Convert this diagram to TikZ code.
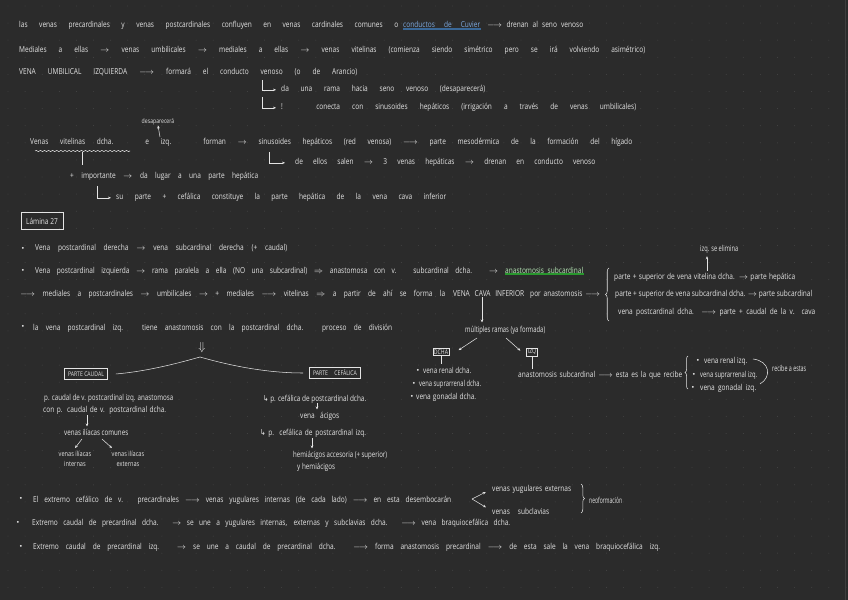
\documentclass[tikz,border=0pt]{standalone}
\usepackage{fontspec}
\setmainfont{Open Sans}[FakeStretch=0.8]
\newfontfamily\symfont{DejaVu Sans}[FakeStretch=0.8]
\usepackage{graphicx}
\usepackage{xcolor}
\usepackage{tikz}
\usetikzlibrary{positioning, calc, arrows.meta, decorations.pathreplacing, decorations.pathmorphing}

\definecolor{boardbg}{RGB}{43,43,43}
\definecolor{boarddot}{RGB}{70,70,70}
\definecolor{boardedge}{RGB}{62,62,62}
\definecolor{inkw}{RGB}{228,228,228}
\definecolor{inkblue}{RGB}{125,170,225}
\definecolor{hlblue}{RGB}{58,104,152}
\definecolor{inkgreen}{RGB}{185,235,185}
\definecolor{hlgreen}{RGB}{40,150,45}

% one pixel of the 848x600 sheet
\newlength\pxu \setlength\pxu{0.03cm}
\newlength\natw
\newcommand\inkfont{\fontsize{7}{8}\selectfont}
% spread a handwritten line over a given width (in px)
\newcommand\spread[2]{\settowidth\natw{#2}\ifdim\natw>#1\pxu\resizebox{#1\pxu}{\height}{#2}\else\makebox[#1\pxu][s]{#2}\fi}
\newcommand\turn{{\symfont ↳}}
\newcommand\dotb{\scalebox{0.55}{$\bullet$}}

\tikzset{
  ink/.style={text=inkw, inner sep=0pt, font=\inkfont},
  row/.style={ink, anchor=base west},
  inkline/.style={draw=inkw, line width=0.45pt},
  inkarrow/.style={inkline, -{Stealth[length=2.6pt, width=2.2pt]}},
  tag/.style={draw=inkw, line width=0.5pt, text=inkw, inner sep=1pt, font=\fontsize{5.5}{6}\selectfont}
}

\begin{document}
\begin{tikzpicture}[x=0.03cm, y=-0.03cm]
        % sheet and dot grid
        \fill[boardbg] (0,0) rectangle (848,600);
        \useasboundingbox (0,0) rectangle (848,600);
        \foreach \i in {0,...,49}
          \foreach \j in {0,...,35}
            \fill[boarddot] (8+\i*17.1, 6+\j*17.1) circle[radius=0.4pt];
        \draw[boardedge, line width=0.8pt] (845,0) -- (845,600);

        % top notes
        \draw[hlblue, line width=1.8pt] (403,29) -- (481,29);
        \node[row] (l1a) at (19,28) {\spread{379}{las venas precardinales y venas postcardinales confluyen en venas cardinales comunes o}};
        \node[row, text=inkblue] (l1b) at (403,28) {\spread{77}{conductos de Cuvier}};
        \node[row] (l1c) at (487,28) {\spread{96}{$\longrightarrow$ drenan al seno venoso}};

        \node[row] (l2) at (19,53) {\spread{626}{Mediales a ellas $\rightarrow$ venas umbilicales $\rightarrow$ mediales a ellas $\rightarrow$ venas vitelinas (comienza siendo simétrico pero se irá volviendo asimétrico)}};
        \node[row] (l3) at (19,75) {\spread{338}{VENA UMBILICAL IZQUIERDA $\longrightarrow$ formará el conducto venoso (o de Arancio)}};

        \coordinate (t1) at (262,80);
        \node[row] (l4) at (281,92) {\spread{204}{da una rama hacia seno venoso (desaparecerá)}};
        \draw[inkarrow, shorten >=5\pxu] (t1) |- (l4.west);
        \coordinate (t2) at (262,97);
        \node[row] (l5) at (281,110) {\spread{355}{! conecta con sinusoides hepáticos (irrigación a través de venas umbilicales)}};
        \draw[inkarrow, shorten >=5\pxu] (t2) |- (l5.west);

        % vitelinas
        \node[ink, font=\fontsize{5.5}{6}\selectfont] (desap) at (158,122) {desaparecerá};
        \node[row] (l7) at (30,145) {\spread{602}{Venas vitelinas dcha. e izq. forman $\rightarrow$ sinusoides hepáticos (red venosa) $\longrightarrow$ parte mesodérmica de la formación del hígado}};
        \coordinate (t3) at (160,137);
        \draw[inkarrow] (t3) -- (desap.south);
        \draw[inkline, decorate, decoration={snake, amplitude=0.5pt, segment length=3.5pt}] (35,151) -- (130,151);
        \coordinate (w1) at (82,152);
        \coordinate (w2) at (82,165);
        \draw[inkline] (w1) -- (w2);

        \coordinate (t4) at (269,152);
        \node[row] (l8) at (295,165) {\spread{300}{de ellos salen $\rightarrow$ 3 venas hepáticas $\rightarrow$ drenan en conducto venoso}};
        \draw[inkarrow, shorten >=10\pxu] (t4) |- (l8.west);
        \node[row] (l9) at (70,179) {\spread{188}{+ importante $\rightarrow$ da lugar a una parte hepática}};
        \coordinate (t5) at (97,186);
        \node[row] (l10) at (116,200) {\spread{330}{su parte + cefálica constituye la parte hepática de la vena cava inferior}};
        \draw[inkarrow, shorten >=5\pxu] (t5) |- (l10.west);

        % Lamina 27
        \node[draw=inkw, line width=0.6pt, text=inkw, font=\fontsize{7}{8}\selectfont, minimum width=42\pxu, minimum height=17\pxu, inner sep=1pt] (lam) at (42,221) {Lámina 27};

        \node[ink] (bu1) at (23,248) {\dotb};
        \node[row] (b1) at (35,251) {\spread{252}{Vena postcardinal derecha $\rightarrow$ vena subcardinal derecha (+ caudal)}};
        \node[ink] (bu2) at (23,270) {\dotb};
        \node[row] (b2a) at (35,273) {\spread{463}{Vena postcardinal izquierda $\rightarrow$ rama paralela a ella (NO una subcardinal) $\Rightarrow$ anastomosa con v. subcardinal dcha. $\rightarrow$}};
        \draw[hlgreen, line width=1.8pt] (505,274) -- (584,274);
        \node[row, text=inkgreen] (b2b) at (505,273) {\spread{78}{anastomosis subcardinal}};

        \node[row] (b3a) at (20,297) {\spread{425}{$\longrightarrow$ mediales a postcardinales $\rightarrow$ umbilicales $\rightarrow$ + mediales $\longrightarrow$ vitelinas $\Rightarrow$ a partir de ahí se forma la}};
        \node[row] (vci) at (453,297) {\spread{71}{VENA CAVA INFERIOR}};
        \node[row] (b3c) at (530,297) {\spread{70}{por anastomosis $\longrightarrow$}};

        % parts of the vena cava
        \draw[inkline, decorate, decoration={brace, amplitude=3pt}] (609,321) -- (609,268);
        \node[row] (r1) at (614,279) {\spread{181}{parte + superior de vena vitelina dcha. $\rightarrow$ parte hepática}};
        \node[row] (r2) at (615,297) {\spread{197}{parte + superior de vena subcardinal dcha. $\rightarrow$ parte subcardinal}};
        \node[row] (r3) at (618,314) {\spread{197}{vena postcardinal dcha. $\longrightarrow$ parte + caudal de la v. cava}};
        \node[row] (elim) at (700,252) {\spread{38}{izq. se elimina}};
        \coordinate (vit) at (707,271);
        \draw[inkarrow] (vit) -- ($(elim.south -| vit)+(0,2)$);

        \node[ink] (bu4) at (23,326) {\dotb};
        \node[row] (b4) at (33,330) {\spread{359}{la vena postcardinal izq. tiene anastomosis con la postcardinal dcha. proceso de división}};

        % branches of the inferior vena cava
        \node[row] (ramas) at (465,332) {\spread{80}{múltiples ramas (ya formada)}};
        \draw[inkarrow] (vci.south -| 482,0) -- ($(ramas.north -| 482,0)+(0,-3)$);
        \node[tag] (dcha) at (441,352) {DCHA};
        \node[tag] (izqbox) at (532,352) {IZQ};
        \coordinate (rl) at (477,338);
        \coordinate (rr) at (506,338);
        \draw[inkarrow] (rl) -- ($(dcha.north east)+(9,2)$);
        \draw[inkarrow] (rr) -- ($(izqbox.north west)+(-6,3)$);

        \node[ink] (dd1) at (418,370) {\dotb};
        \node[row] (d1) at (423,373) {\spread{48}{vena renal dcha.}};
        \node[ink] (dd2) at (414,383) {\dotb};
        \node[row] (d2) at (419,386) {\spread{62}{vena suprarrenal dcha.}};
        \node[ink] (dd3) at (412,396) {\dotb};
        \node[row] (d3) at (416,399) {\spread{60}{vena gonadal dcha.}};
        \draw[inkline] (dcha.south) -- ($(dcha.south |- d1.north)+(0,-3)$);

        \node[row] (anast) at (518,377) {\spread{164}{anastomosis subcardinal $\longrightarrow$ esta es la que recibe}};
        \draw[inkline] (izqbox.south) -- ($(izqbox.south |- anast.north)+(0,-2)$);
        \draw[inkline, decorate, decoration={brace, amplitude=2.5pt}] (688,389) -- (688,356);
        \node[ink] (ii1) at (698,360) {\dotb};
        \node[row] (i1) at (704,363) {\spread{43}{vena renal izq.}};
        \node[ink] (ii2) at (694,374) {\dotb};
        \node[row] (i2) at (700,377) {\spread{57}{vena suprarrenal izq.}};
        \node[ink] (ii3) at (693,387) {\dotb};
        \node[row] (i3) at (700,390) {\spread{56}{vena gonadal izq.}};
        \draw[inkline] (753,359) .. controls (770,361) and (772,377) .. (760,384);
        \node[row] (recibe) at (772,371) {\spread{34}{recibe a estas}};

        % caudal and cephalic parts
        \node[ink, font=\fontsize{10}{10}\selectfont] (split) at (202,348) {$\Downarrow$};
        \coordinate (apex) at (200,357);
        \node[tag, minimum width=43\pxu, minimum height=11\pxu] (caudal) at (86,374) {\spread{36}{PARTE CAUDAL}};
        \node[tag, minimum width=51\pxu, minimum height=11\pxu] (cefal) at (335,373) {\spread{44}{PARTE CEFÁLICA}};
        \draw[inkline] ($(caudal.east)+(8,0)$) .. controls (150,371) and (182,362) .. (apex);
        \draw[inkline] (apex) .. controls (235,367) and (270,373) .. ($(cefal.west)+(-6,0)$);

        \node[row] (c1) at (44,400) {\spread{129}{p. caudal de v. postcardinal izq. anastomosa}};
        \node[row] (c2) at (43,412) {\spread{123}{con p. caudal de v. postcardinal dcha.}};
        \node[row] (ilcom) at (64,435) {\spread{64}{venas ilíacas comunes}};
        \coordinate (ca) at (87,415);
        \draw[inkarrow] (ca) -- ($(ca |- ilcom.north)+(0,-2)$);
        \node[ink, align=center, font=\fontsize{6}{8.5}\selectfont] (ilint) at (75,459) {venas ilíacas\\internas};
        \node[ink, align=center, font=\fontsize{6}{8.5}\selectfont] (ilext) at (128,459) {venas ilíacas\\externas};
        \coordinate (ic1) at (82,439);
        \coordinate (ic2) at (102,439);
        \draw[inkarrow] (ic1) -- ($(ilint.north)+(0,-3)$);
        \draw[inkarrow] (ic2) -- ($(ilext.north)+(-16,-3)$);

        \node[row] (cf1) at (263,401) {\spread{103}{\turn\ p. cefálica de postcardinal dcha.}};
        \node[row] (acig) at (300,418) {\spread{39}{vena ácigos}};
        \coordinate (aa) at (317,403);
        \draw[inkarrow] (aa) -- ($(aa |- acig.north)+(0,-2)$);
        \node[row] (cf2) at (260,435) {\spread{106}{\turn\ p. cefálica de postcardinal izq.}};
        \node[row] (hemi1) at (293,457) {\spread{94}{hemiácigos accesoria (+ superior)}};
        \node[row] (hemi2) at (297,469) {\spread{38}{y hemiácigos}};
        \coordinate (ha) at (312,438);
        \draw[inkarrow] (ha) -- ($(ha |- hemi1.north)+(0,-2)$);

        % extremos de las precardinales
        \node[ink] (bu5) at (21,498) {\dotb};
        \node[row] (e1) at (33,502) {\spread{418}{El extremo cefálico de v. precardinales $\longrightarrow$ venas yugulares internas (de cada lado) $\longrightarrow$ en esta desembocarán}};
        \coordinate (fork) at (472,499);
        \node[row] (yext) at (492,491) {\spread{79}{venas yugulares externas}};
        \node[row] (subcl) at (492,514) {\spread{57}{venas subclavias}};
        \draw[inkarrow, shorten >=7\pxu] (fork) -- (yext.west);
        \draw[inkarrow, shorten >=7\pxu] (fork) -- (subcl.west);
        \draw[inkline, decorate, decoration={brace, amplitude=3pt}] (581,484) -- (581,513);
        \node[row] (neo) at (589,503) {\spread{33}{neoformación}};

        \node[ink] (bu6) at (18,522) {\dotb};
        \node[row] (e2) at (32,525) {\spread{478}{Extremo caudal de precardinal dcha. $\rightarrow$ se une a yugulares internas, externas y subclavias dcha. $\longrightarrow$ vena braquiocefálica dcha.}};
        \node[ink] (bu7) at (21,546) {\dotb};
        \node[row] (e3) at (33,549) {\spread{627}{Extremo caudal de precardinal izq. $\rightarrow$ se une a caudal de precardinal dcha. $\longrightarrow$ forma anastomosis precardinal $\longrightarrow$ de esta sale la vena braquiocefálica izq.}};
      \end{tikzpicture}
\end{document}
